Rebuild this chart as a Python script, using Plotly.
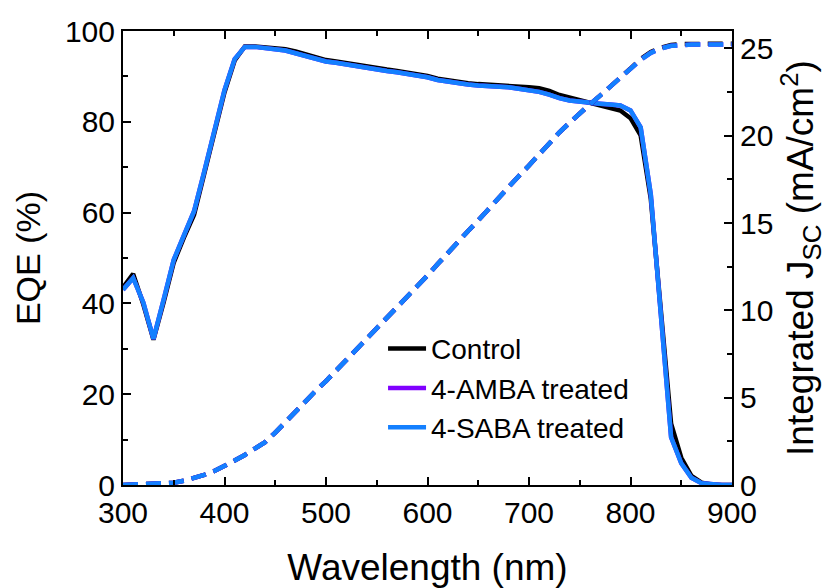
import plotly.graph_objects as go

wavelength = list(range(300, 901, 10))

eqe_control = [43.5, 46.5, 39.8, 32.0, 40.2, 49.0, 54.5, 59.5, 68.5, 78.0,
               86.5, 93.5, 96.6, 96.6, 96.4, 96.1, 96.0, 95.5, 94.9, 94.1,
               93.6, 93.3, 92.9, 92.5, 92.1, 91.8, 91.5, 91.2, 90.9, 90.6,
               90.1, 89.5, 89.1, 88.8, 88.5, 88.3, 88.2, 88.1, 88.0, 87.8,
               87.6, 87.4, 86.8, 85.9, 85.3, 84.7, 84.2, 83.6, 83.0, 82.5,
               80.8, 77.0, 63.0, 39.5, 13.5, 6.0, 2.0, 0.5, 0.1, 0.0, 0.0]

eqe_amba = [43.0, 45.6, 40.2, 32.2, 40.8, 49.6, 55.0, 60.3, 69.0, 78.5,
            87.0, 93.8, 96.5, 96.5, 96.2, 95.9, 95.7, 95.1, 94.5, 93.8,
            93.3, 93.0, 92.6, 92.2, 91.8, 91.5, 91.2, 90.9, 90.6, 90.3,
            89.8, 89.2, 88.8, 88.4, 88.2, 88.0, 87.9, 87.8, 87.6, 87.3,
            87.0, 86.6, 86.0, 85.2, 84.7, 84.4, 84.1, 84.0, 83.8, 83.6,
            82.5, 78.8, 64.0, 38.0, 10.5, 4.8, 1.6, 0.4, 0.1, 0.0, 0.0]

eqe_saba = [43.0, 45.6, 40.2, 32.2, 40.8, 49.6, 55.0, 60.3, 69.0, 78.5,
            87.0, 93.8, 96.5, 96.5, 96.2, 95.9, 95.7, 95.1, 94.5, 93.8,
            93.3, 93.0, 92.6, 92.2, 91.8, 91.5, 91.2, 90.9, 90.6, 90.3,
            89.8, 89.2, 88.8, 88.4, 88.2, 88.0, 87.9, 87.8, 87.6, 87.3,
            87.0, 86.6, 86.0, 85.2, 84.7, 84.4, 84.1, 84.0, 83.8, 83.6,
            82.5, 78.8, 64.0, 38.0, 10.5, 4.8, 1.6, 0.4, 0.1, 0.0, 0.0]

jsc_control = [0.0, 0.02, 0.04, 0.06, 0.09, 0.13, 0.24, 0.40, 0.58, 0.80,
               1.08, 1.40, 1.72, 2.05, 2.45, 3.00, 3.60, 4.20, 4.85, 5.40,
               5.95, 6.55, 7.15, 7.75, 8.35, 8.95, 9.55, 10.2, 10.8, 11.4,
               12.0, 12.65, 13.3, 13.9, 14.55, 15.15, 15.8, 16.4, 17.05, 17.7,
               18.3, 18.95, 19.6, 20.2, 20.75, 21.3, 21.8, 22.3, 22.8, 23.3,
               23.85, 24.4, 24.8, 25.05, 25.2, 25.25, 25.27, 25.27, 25.27, 25.27, 25.27]

jsc_amba = [0.0, 0.02, 0.04, 0.06, 0.09, 0.13, 0.24, 0.40, 0.58, 0.80,
            1.08, 1.40, 1.72, 2.05, 2.45, 3.00, 3.60, 4.20, 4.85, 5.40,
            5.95, 6.55, 7.15, 7.75, 8.35, 8.95, 9.55, 10.2, 10.8, 11.4,
            12.0, 12.65, 13.3, 13.9, 14.55, 15.15, 15.8, 16.4, 17.05, 17.7,
            18.3, 18.95, 19.6, 20.2, 20.75, 21.3, 21.8, 22.3, 22.8, 23.3,
            23.85, 24.35, 24.75, 25.0, 25.15, 25.2, 25.22, 25.22, 25.22, 25.22, 25.22]

jsc_saba = [0.0, 0.02, 0.04, 0.06, 0.09, 0.13, 0.24, 0.40, 0.58, 0.80,
            1.08, 1.40, 1.72, 2.05, 2.45, 3.00, 3.60, 4.20, 4.85, 5.40,
            5.95, 6.55, 7.15, 7.75, 8.35, 8.95, 9.55, 10.2, 10.8, 11.4,
            12.0, 12.65, 13.3, 13.9, 14.55, 15.15, 15.8, 16.4, 17.05, 17.7,
            18.3, 18.95, 19.6, 20.2, 20.75, 21.3, 21.8, 22.3, 22.8, 23.3,
            23.85, 24.35, 24.75, 25.0, 25.15, 25.2, 25.22, 25.22, 25.22, 25.22, 25.22]

names = ["Control", "4-AMBA treated", "4-SABA treated"]
colors = ["#000000", "#8000ff", "#1480ff"]
eqe_sets = [eqe_control, eqe_amba, eqe_saba]
jsc_sets = [jsc_control, jsc_amba, jsc_saba]

FONT = "Liberation Sans, Arial, sans-serif"

fig = go.Figure()
for name, col, eqe in zip(names, colors, eqe_sets):
    fig.add_trace(go.Scatter(x=wavelength, y=eqe, mode="lines", name=name,
                             line=dict(color=col, width=4.5), yaxis="y"))
for name, col, jsc in zip(names, colors, jsc_sets):
    fig.add_trace(go.Scatter(x=wavelength, y=jsc, mode="lines", name=name,
                             showlegend=False,
                             line=dict(color=col, width=4.5, dash="15px,8px"),
                             yaxis="y2"))

axis_common = dict(showline=True, linecolor="black", linewidth=2,
                   ticks="inside", tickcolor="black", tickwidth=2, ticklen=8,
                   showgrid=False, zeroline=False, automargin=False,
                   tickfont=dict(family=FONT, size=30, color="black"))

fig.update_layout(
    width=821, height=580,
    margin=dict(l=115, r=97, t=23, b=103),
    paper_bgcolor="white", plot_bgcolor="white",
    font=dict(family=FONT, color="black"),
    xaxis=dict(range=[300, 900], tickvals=[300, 400, 500, 600, 700, 800, 900],
               mirror="ticks",
               minor=dict(tickvals=[350, 450, 550, 650, 750, 850], ticklen=5,
                          tickwidth=2, tickcolor="black", ticks="inside"),
               title=dict(text="Wavelength (nm)", font=dict(family=FONT, size=37),
                          standoff=29),
               **axis_common),
    yaxis=dict(range=[0, 100], tickvals=[0, 20, 40, 60, 80, 100],
               minor=dict(tickvals=[10, 30, 50, 70, 90], ticklen=5,
                          tickwidth=2, tickcolor="black", ticks="inside"),
               title=dict(text="EQE (%)", font=dict(family=FONT, size=34),
                          standoff=14),
               **axis_common),
    yaxis2=dict(range=[0, 26], overlaying="y", side="right",
                tickvals=[0, 5, 10, 15, 20, 25],
                minor=dict(tickvals=[2.5, 7.5, 12.5, 17.5, 22.5], ticklen=5,
                           tickwidth=2, tickcolor="black", ticks="inside"),
                title=dict(text="Integrated J<sub>SC</sub> (mA/cm<sup>2</sup>)",
                           font=dict(family=FONT, size=37), standoff=15),
                **axis_common),
    legend=dict(x=0.427, y=0.355, xanchor="left", yanchor="top",
                bgcolor="rgba(0,0,0,0)", borderwidth=0,
                font=dict(family=FONT, size=28, color="black"),
                tracegroupgap=0, itemwidth=38),
    showlegend=True,
)

fig.write_html("out.html")
